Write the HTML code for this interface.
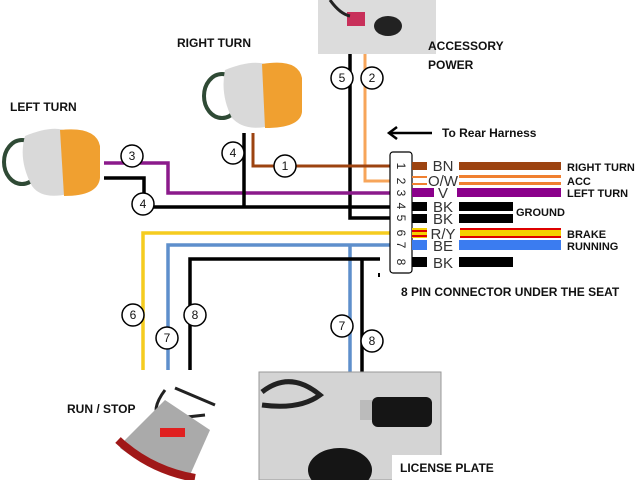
<!DOCTYPE html>
<html><head><meta charset="utf-8"><style>
body{margin:0;background:#fff;width:640px;height:480px;overflow:hidden}
svg text{font-family:"Liberation Sans",sans-serif}
.l{font-weight:bold;font-size:12px;fill:#111}
.c{font-size:12px;fill:#111;text-anchor:middle}
.p{font-size:15px;fill:#333;text-anchor:middle}
</style></head><body>
<svg width="640" height="480" xmlns="http://www.w3.org/2000/svg">
<rect x="318" y="0" width="118" height="54" fill="#dcdcdc"/>
<rect x="347" y="12" width="18" height="14" fill="#c8305a"/>
<ellipse cx="388" cy="26" rx="14" ry="10" fill="#222"/>
<path d="M330 0 Q340 14 350 16" stroke="#222" stroke-width="3" fill="none"/>
<ellipse cx="222" cy="96" rx="18" ry="22" fill="none" stroke="#2f4a35" stroke-width="4"/>
<path d="M225 70 Q255 58 270 66 L270 126 Q245 132 232 118 Q220 95 225 70Z" fill="#d9d9d9"/>
<path d="M262 64 Q298 58 302 78 L302 112 Q300 128 265 128Z" fill="#f0a030"/>
<ellipse cx="22" cy="162" rx="18" ry="22" fill="none" stroke="#2f4a35" stroke-width="4"/>
<path d="M25 136 Q55 124 68 132 L68 194 Q42 200 32 186 Q18 160 25 136Z" fill="#d9d9d9"/>
<path d="M60 130 Q96 126 100 146 L100 178 Q98 196 64 196Z" fill="#f0a030"/>
<g fill="none" stroke-width="3.5">
<path d="M350 54 V218 H410" stroke="#000"/>
<path d="M365 54 V181 H410" stroke="#f7a55a" stroke-width="3"/>
<path d="M253 133 V166 H410" stroke="#9c4310" stroke-width="3"/>
<path d="M104 163 H168 V193 H410" stroke="#8b1a8b"/>
<path d="M104 178 H144 V207 H410" stroke="#000"/>
<path d="M244 133 V207" stroke="#000"/>
<path d="M143 370 V233 H410" stroke="#f5cc1f"/>
<path d="M168 370 V245 H410" stroke="#5e8fcc"/>
<path d="M350 372 V245" stroke="#5e8fcc"/>
<path d="M190 370 V259 H380" stroke="#000"/>
<path d="M362 372 V259" stroke="#000"/>
</g>
<rect x="378" y="273" width="2" height="4" fill="#000"/>
<g fill="#fff" stroke="#000" stroke-width="1.5">
<circle cx="132" cy="156" r="11"/><circle cx="143" cy="204" r="11"/>
<circle cx="233" cy="153" r="11"/><circle cx="285" cy="166" r="11"/>
<circle cx="342" cy="78" r="11"/><circle cx="372" cy="78" r="11"/>
<circle cx="133" cy="315" r="11"/><circle cx="167" cy="338" r="11"/>
<circle cx="195" cy="315" r="11"/><circle cx="342" cy="326" r="11"/>
<circle cx="372" cy="341" r="11"/>
</g>
<text class="c" x="132" y="160">3</text><text class="c" x="143" y="208">4</text>
<text class="c" x="233" y="157">4</text><text class="c" x="285" y="170">1</text>
<text class="c" x="342" y="82">5</text><text class="c" x="372" y="82">2</text>
<text class="c" x="133" y="319">6</text><text class="c" x="167" y="342">7</text>
<text class="c" x="195" y="319">8</text><text class="c" x="342" y="330">7</text>
<text class="c" x="372" y="345">8</text>
<rect x="390" y="152" width="22" height="121" rx="3" fill="#fff" stroke="#000" stroke-width="1.2"/>
<g font-size="12" fill="#222" text-anchor="middle" font-family="Liberation Sans">
<text transform="translate(397,166) rotate(90)">1</text>
<text transform="translate(397,181) rotate(90)">2</text>
<text transform="translate(397,193) rotate(90)">3</text>
<text transform="translate(397,206) rotate(90)">4</text>
<text transform="translate(397,218) rotate(90)">5</text>
<text transform="translate(397,233) rotate(90)">6</text>
<text transform="translate(397,245) rotate(90)">7</text>
<text transform="translate(397,262) rotate(90)">8</text>
</g>
<rect x="412" y="162" width="15" height="8" fill="#9c4310"/>
<rect x="412" y="176" width="15" height="2" fill="#f08030"/><rect x="412" y="183" width="15" height="2" fill="#f08030"/>
<rect x="412" y="188" width="22" height="9" fill="#8b008b"/>
<rect x="412" y="202" width="15" height="9" fill="#000"/>
<rect x="412" y="214" width="15" height="9" fill="#000"/>
<rect x="412" y="228" width="15" height="10" fill="#f5d000"/><rect x="412" y="230" width="15" height="2" fill="#d00"/><rect x="412" y="235" width="15" height="2" fill="#d00"/>
<rect x="412" y="240" width="15" height="10" fill="#3b7cf0"/>
<rect x="412" y="257" width="15" height="10" fill="#000"/>
<rect x="459" y="162" width="102" height="8" fill="#9c4310"/>
<rect x="459" y="175" width="102" height="3" fill="#f08030"/><rect x="459" y="182" width="102" height="3" fill="#f08030"/>
<rect x="457" y="188" width="104" height="9" fill="#8b008b"/>
<rect x="459" y="202" width="54" height="9" fill="#000"/>
<rect x="459" y="214" width="54" height="9" fill="#000"/>
<rect x="460" y="228" width="101" height="10" fill="#f5d000"/><rect x="460" y="228" width="101" height="2" fill="#d00"/><rect x="460" y="236" width="101" height="2" fill="#d00"/>
<rect x="459" y="240" width="102" height="10" fill="#3b7cf0"/>
<rect x="459" y="257" width="54" height="10" fill="#000"/>
<g class="p">
<text x="443" y="171">BN</text><text x="443" y="186">O/W</text><text x="443" y="198">V</text>
<text x="443" y="212">BK</text><text x="443" y="224">BK</text><text x="443" y="239">R/Y</text>
<text x="443" y="251">BE</text><text x="443" y="268">BK</text>
</g>
<g class="l" style="font-size:11px">
<text x="567" y="171">RIGHT TURN</text><text x="567" y="185">ACC</text><text x="567" y="197">LEFT TURN</text>
<text x="516" y="216">GROUND</text><text x="567" y="238">BRAKE</text><text x="567" y="250">RUNNING</text>
</g>
<path d="M432 133 H391" stroke="#000" stroke-width="2.5"/>
<path d="M397 127 L389 133 L397 139" stroke="#000" stroke-width="2.5" fill="none"/>
<text class="l" x="442" y="137" style="font-size:12px">To Rear Harness</text>
<text class="l" x="177" y="47">RIGHT TURN</text>
<text class="l" x="10" y="111">LEFT TURN</text>
<text class="l" x="428" y="50">ACCESSORY</text>
<text class="l" x="428" y="69">POWER</text>
<text class="l" x="401" y="296">8 PIN CONNECTOR UNDER THE SEAT</text>
<text class="l" x="67" y="413">RUN / STOP</text>
<path d="M165 390 Q150 410 160 420 L205 415" stroke="#222" stroke-width="3" fill="none"/>
<path d="M175 388 L215 405" stroke="#222" stroke-width="3"/>
<path d="M125 440 L165 400 L210 430 L190 475 Q150 470 120 448Z" fill="#aaa"/>
<path d="M118 440 Q150 470 195 478" stroke="#a01818" stroke-width="8" fill="none"/>
<rect x="160" y="428" width="25" height="9" fill="#e02020"/>
<rect x="259" y="372" width="182" height="108" fill="#d4d4d4" stroke="#999"/>
<path d="M262 392 Q290 370 320 395 Q300 410 262 405" stroke="#222" stroke-width="5" fill="none"/>
<rect x="360" y="400" width="12" height="20" fill="#bbb"/>
<rect x="372" y="397" width="60" height="30" rx="6" fill="#151515"/>
<ellipse cx="340" cy="470" rx="32" ry="22" fill="#151515"/>
<rect x="392" y="455" width="50" height="25" fill="#fff"/>
<text class="l" x="400" y="472">LICENSE PLATE</text>
</svg>
</body></html>
